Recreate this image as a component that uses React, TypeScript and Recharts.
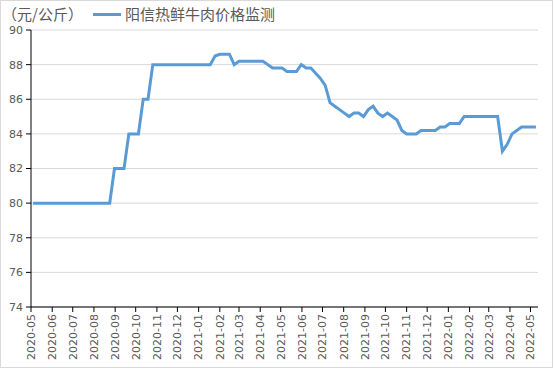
import { LineChart, Line, XAxis, YAxis, CartesianGrid, Legend } from "recharts";

const SERIES_NAME = "阳信热鲜牛肉价格监测";
const UNIT = "（元/公斤）";
const FIRST_WEEK = "2020-05-04";

// weekly price, 元/公斤
const prices = [
  80, 80, 80, 80, 80, 80, 80, 80, 80, 80, 80, 80, 80, 80, 80, 80, 80,
  82, 82, 82, 84, 84, 84, 86, 86, 88, 88, 88, 88, 88, 88, 88, 88, 88,
  88, 88, 88, 88, 88.5, 88.6, 88.6, 88.6, 88, 88.2, 88.2, 88.2, 88.2, 88.2,
  88.2, 88, 87.8, 87.8, 87.8, 87.6, 87.6, 87.6, 88, 87.8, 87.8, 87.5, 87.2,
  86.8, 85.8, 85.6, 85.4, 85.2, 85, 85.2, 85.2, 85, 85.4, 85.6, 85.2, 85,
  85.2, 85, 84.8, 84.2, 84, 84, 84, 84.2, 84.2, 84.2, 84.2, 84.4, 84.4,
  84.6, 84.6, 84.6, 85, 85, 85, 85, 85, 85, 85, 85, 83, 83.4, 84, 84.2,
  84.4, 84.4, 84.4, 84.4,
];

const monthTicks = [
  "2020-05", "2020-06", "2020-07", "2020-08", "2020-09", "2020-10", "2020-11",
  "2020-12", "2021-01", "2021-02", "2021-03", "2021-04", "2021-05", "2021-06",
  "2021-07", "2021-08", "2021-09", "2021-10", "2021-11", "2021-12", "2022-01",
  "2022-02", "2022-03", "2022-04", "2022-05",
];

const yTicks = [74, 76, 78, 80, 82, 84, 86, 88, 90];

const DAY = 86400000;
const ORIGIN = Date.UTC(2020, 4, 1);
const dayOf = (s: string) => {
  const [y, m, d] = s.split("-").map(Number);
  return (Date.UTC(y, m - 1, d || 1) - ORIGIN) / DAY;
};

const firstDay = dayOf(FIRST_WEEK);
const data = prices.map((price, i) => ({ day: firstDay + i * 7, price }));
const tickDays = monthTicks.map(dayOf);
const labelOf: Record<number, string> = {};
monthTicks.forEach((m, i) => (labelOf[tickDays[i]] = m));

const TEXT = "#595959";
const LINE = "#5B9BD5";

function MonthTick({ x, y, payload }: any) {
  return (
    <g transform={`translate(${x},${y})`}>
      <text
        transform="rotate(-90)"
        x={0}
        y={0}
        dy="0.35em"
        textAnchor="end"
        fill={TEXT}
        fontSize={11}
        fontFamily="DejaVu Sans"
      >
        {labelOf[payload.value]}
      </text>
    </g>
  );
}

function TopLegend() {
  return (
    <div style={{ position: "relative", width: 554, height: 28, color: TEXT, fontFamily: "Noto Sans CJK SC", fontSize: 15 }}>
      <span style={{ position: "absolute", left: 2, top: 4, lineHeight: "20px" }}>{UNIT}</span>
      <span style={{ position: "absolute", left: 93, top: 13, width: 28, height: 3, background: LINE }} />
      <span style={{ position: "absolute", left: 125, top: 4, lineHeight: "20px" }}>{SERIES_NAME}</span>
    </div>
  );
}

export default function App() {
  return (
    <div style={{ position: "absolute", left: 0, top: 0, width: 554, height: 370, background: "#fff" }}>
      <LineChart width={554} height={370} data={data} margin={{ top: 30, right: 16, left: 0, bottom: 0 }}>
        <CartesianGrid vertical={false} stroke="#d9d9d9" />
        <XAxis
          type="number"
          dataKey="day"
          domain={[0, 741]}
          ticks={tickDays}
          interval={0}
          height={63}
          tickSize={5}
          tickMargin={2}
          axisLine={{ stroke: "#000" }}
          tickLine={{ stroke: "#000" }}
          tick={<MonthTick />}
        />
        <YAxis
          domain={[74, 90]}
          ticks={yTicks}
          interval={0}
          width={31}
          tickSize={5}
          tickMargin={3}
          axisLine={{ stroke: "#000" }}
          tickLine={{ stroke: "#000" }}
          tick={{ fill: TEXT, fontSize: 11, fontFamily: "DejaVu Sans" }}
        />
        <Legend
          verticalAlign="middle"
          layout="horizontal"
          wrapperStyle={{ top: 0, left: 0 }}
          content={() => <TopLegend />}
        />
        <Line
          type="linear"
          dataKey="price"
          name={SERIES_NAME}
          stroke={LINE}
          strokeWidth={3}
          dot={false}
          isAnimationActive={false}
        />
      </LineChart>
      <div
        style={{
          position: "absolute",
          left: 0,
          top: 0,
          width: 553,
          height: 368,
          border: "1px solid #d9d9d9",
          boxSizing: "border-box",
          pointerEvents: "none",
        }}
      />
    </div>
  );
}
